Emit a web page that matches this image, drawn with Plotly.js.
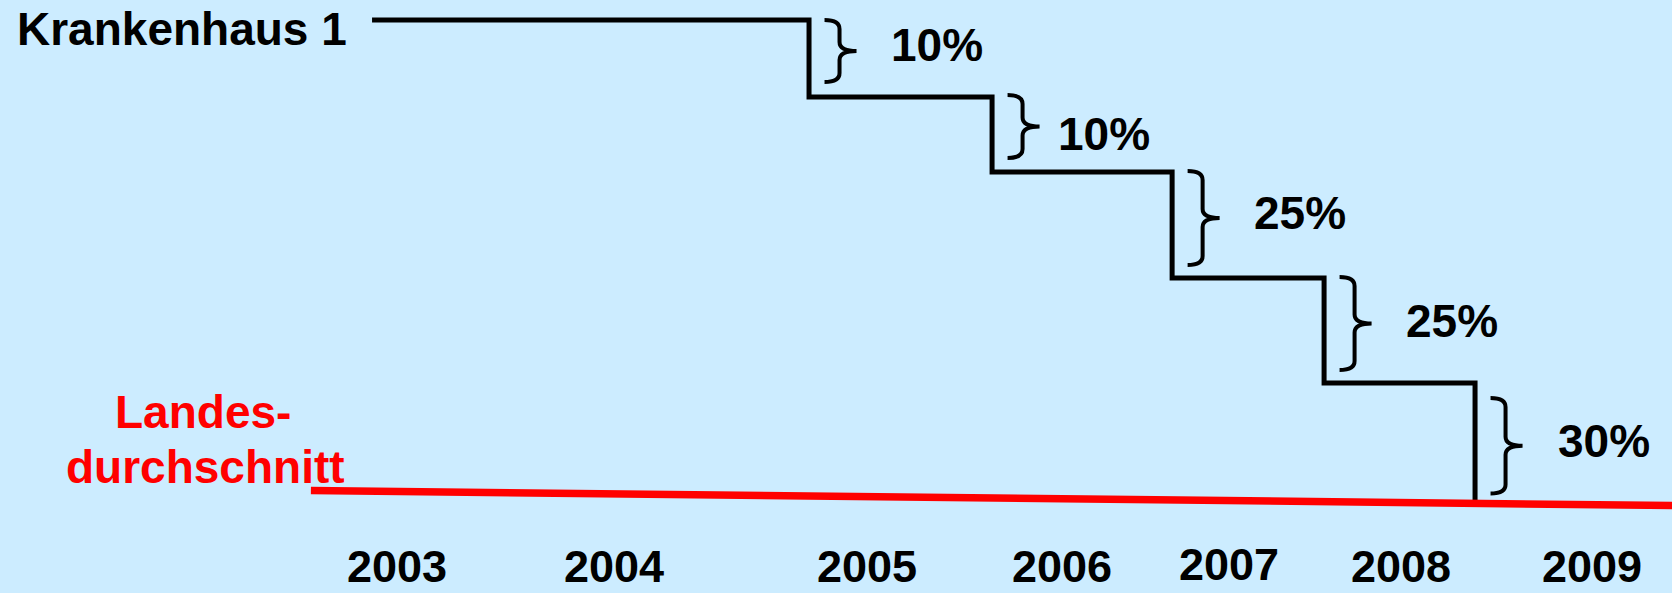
<!DOCTYPE html>
<html>
<head>
<meta charset="utf-8">
<script src="https://cdn.plot.ly/plotly-3.0.1.min.js"></script>
<style>
  html, body { margin: 0; padding: 0; background: #CCECFF; }
  #chart { width: 1672px; height: 593px; }
</style>
</head>
<body>
<div id="chart"></div>
<script>
// ---- data ----
const yearLabels = ['2003', '2004', '2005', '2006', '2007', '2008', '2009'];
const yearTickPos = [2003.0, 2004.09, 2005.36, 2006.34, 2007.18, 2008.04, 2009.0];
const hospitalX = [2002.875, 2005.069, 2005.988, 2006.892, 2007.655, 2008.413];
const hospitalY = [143.25, 124.0, 105.25, 78.75, 52.5, 22.4];
const reductionLabels = ['10%', '10%', '25%', '25%', '30%'];
const averageX = [2002.568, 2009.45];
const averageY = [25.6, 21.85];
const hospitalName = 'Krankenhaus 1';
const averageName = ['Landes-', 'durchschnitt'];

// ---- scale helpers (layout geometry) ----
const W = 1672, H = 593;
const X0 = 2001.007, PX_PER_YEAR = 199.17, PX_PER_UNIT = 4;
const xRange = [X0, X0 + W / PX_PER_YEAR];
const yRange = [0, H / PX_PER_UNIT];
const x2px = x => (x - X0) * PX_PER_YEAR;
const y2px = y => H - y * PX_PER_UNIT;
const px2x = p => X0 + p / PX_PER_YEAR;
const px2y = p => (H - p) / PX_PER_UNIT;

const FONT = '"Liberation Sans", Arial, Helvetica, sans-serif';
const FS = 46;

const traces = [
  {
    x: hospitalX, y: hospitalY, type: 'scatter', mode: 'lines',
    line: { shape: 'hv', color: '#000000', width: 5 },
    hoverinfo: 'skip', showlegend: false
  },
  {
    x: averageX, y: averageY, type: 'scatter', mode: 'lines',
    line: { color: '#FF0000', width: 7.5 },
    hoverinfo: 'skip', showlegend: false
  }
];

// braces and percentage labels between consecutive levels
const braceTopPad = [0, -2, -1, -1, 15];
const braceBotPad = [15, 14, 13, 13, 6];
const labelDx = [128, 111.5, 128, 128, 129];
const labelDy = [-6.5, 7.5, -5.5, -3, -5];
const shapes = [];
const annotations = [];
for (let i = 0; i < reductionLabels.length; i++) {
  const vx = x2px(hospitalX[i + 1]);
  const upper = y2px(hospitalY[i]);
  const lower = i + 1 === reductionLabels.length ? y2px(hospitalY[i + 1]) - 4 : y2px(hospitalY[i + 1]);
  const L = vx + 15.5, S = L + 15, T = L + 32;
  const top = upper + braceTopPad[i];
  const bot = lower - braceBotPad[i];
  const mid = (top + bot) / 2;
  const r = 9;
  const P = (px, py) => px2x(px) + ',' + px2y(py);
  const path = 'M' + P(L, top) +
    ' Q' + P(S, top) + ' ' + P(S, top + r) +
    ' L' + P(S, mid - r) +
    ' Q' + P(S, mid) + ' ' + P(T, mid) +
    ' Q' + P(S, mid) + ' ' + P(S, mid + r) +
    ' L' + P(S, bot - r) +
    ' Q' + P(S, bot) + ' ' + P(L, bot);
  shapes.push({
    type: 'path', xref: 'x', yref: 'y', path: path,
    line: { color: '#000000', width: 4 }
  });
  annotations.push({
    x: px2x(vx + labelDx[i]), y: px2y(mid + labelDy[i]),
    xref: 'x', yref: 'y', xanchor: 'center', yanchor: 'middle',
    text: '<b>' + reductionLabels[i] + '</b>', showarrow: false,
    font: { family: FONT, size: FS, color: '#000000' }
  });
}

// series names
annotations.push({
  x: px2x(349), y: px2y(29), xref: 'x', yref: 'y',
  xanchor: 'right', yanchor: 'middle', showarrow: false,
  text: '<b>' + hospitalName + '</b>',
  font: { family: FONT, size: FS, color: '#000000' }
});
annotations.push({
  x: px2x(203), y: px2y(412), xref: 'x', yref: 'y',
  xanchor: 'center', yanchor: 'middle', showarrow: false,
  text: '<b>' + averageName[0] + '</b>',
  font: { family: FONT, size: FS, color: '#FF0000' }
});
annotations.push({
  x: px2x(205), y: px2y(467), xref: 'x', yref: 'y',
  xanchor: 'center', yanchor: 'middle', showarrow: false,
  text: '<b>' + averageName[1] + '</b>',
  font: { family: FONT, size: FS, color: '#FF0000' }
});

// year labels along the time axis
const yearDy = [0, 0, 0, 0, -2, 0, 0];
yearLabels.forEach((lab, i) => {
  annotations.push({
    x: yearTickPos[i], y: px2y(566 + yearDy[i]), xref: 'x', yref: 'y',
    xanchor: 'center', yanchor: 'middle', showarrow: false,
    text: '<b>' + lab + '</b>',
    font: { family: FONT, size: 45, color: '#000000' }
  });
});

const axisOff = {
  showgrid: false, zeroline: false, showticklabels: false, ticks: '',
  showline: false, fixedrange: true
};

const layout = {
  width: W, height: H,
  margin: { l: 0, r: 0, t: 0, b: 0, pad: 0 },
  paper_bgcolor: '#CCECFF', plot_bgcolor: '#CCECFF',
  xaxis: Object.assign({ range: xRange }, axisOff),
  yaxis: Object.assign({ range: yRange }, axisOff),
  shapes: shapes,
  annotations: annotations,
  showlegend: false
};

Plotly.newPlot('chart', traces, layout, { displayModeBar: false, staticPlot: true });
</script>
</body>
</html>
